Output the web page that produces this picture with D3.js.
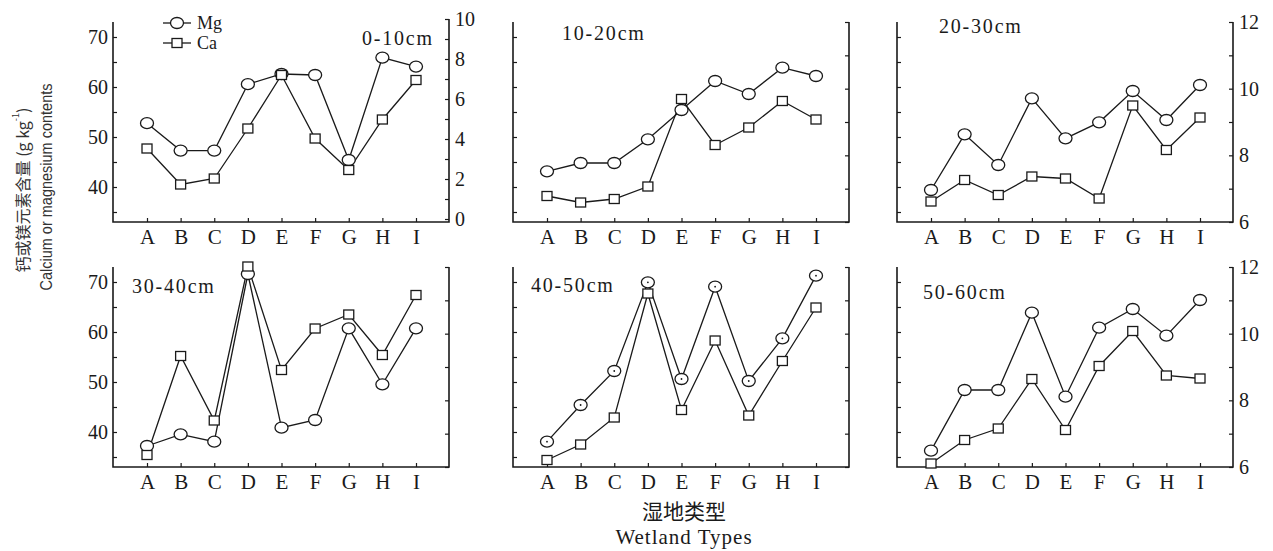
<!DOCTYPE html>
<html>
<head>
<meta charset="utf-8">
<script src="https://cdnjs.cloudflare.com/ajax/libs/d3/7.8.5/d3.min.js"></script>
<style>
  body { margin: 0; background: #fff; }
  svg { display: block; }
</style>
</head>
<body>
<div class="canvas"></div>
<script>
// wetland types and soil depths
const types = ["A", "B", "C", "D", "E", "F", "G", "H", "I"];
const depths = ["0-10cm", "10-20cm", "20-30cm", "30-40cm", "40-50cm", "50-60cm"];

// Mg (right axis) and Ca (left axis)
const mg0_10 = [4.79, 3.42, 3.42, 6.74, 7.25, 7.2, 2.95, 8.07, 7.62];
const ca0_10 = [47.7, 40.5, 41.7, 51.7, 62.4, 49.7, 43.4, 53.5, 61.4];
const mg10_20 = [7.52, 7.77, 7.77, 8.48, 9.36, 10.23, 9.84, 10.63, 10.38];
const ca10_20 = [38.2, 36.9, 37.6, 40.1, 57.6, 48.4, 51.9, 57.2, 53.5];
const mg20_30 = [6.96, 8.63, 7.71, 9.71, 8.51, 8.99, 9.93, 9.06, 10.11];
const ca20_30 = [37.1, 41.4, 38.4, 42.1, 41.7, 37.7, 56.3, 47.4, 53.9];
const mg30_40 = [6.63, 6.98, 6.76, 11.79, 7.18, 7.41, 10.16, 8.48, 10.16];
const ca30_40 = [35.4, 55.2, 42.3, 73.1, 52.4, 60.7, 63.5, 55.4, 67.4];
const mg40_50 = [6.76, 7.86, 8.88, 11.54, 8.64, 11.41, 8.58, 9.86, 11.74];
const ca40_50 = [34.4, 37.5, 42.9, 67.7, 44.4, 58.3, 43.3, 54.2, 64.9];
const mg50_60 = [6.49, 8.31, 8.31, 10.63, 8.11, 10.18, 10.74, 9.94, 11.01];
const ca50_60 = [33.7, 38.4, 40.7, 50.6, 40.4, 53.2, 60.2, 51.3, 50.7];

// tick values
const caTicks = [35, 40, 45, 50, 55, 60, 65, 70];
const mgTicksLow = [0, 1, 2, 3, 4, 5, 6, 7, 8, 9, 10];
const mgTicksHigh = [6, 7, 8, 9, 10, 11, 12];

const W = 1273, H = 551;
const serif = "'Liberation Serif', 'Times New Roman', serif";
const ink = "#1a1a1a";

const colX = [113, 513, 897];
const rowB = [222, 467];
const panelW = 336, panelH = 200;

const svg = d3.select(".canvas")
  .append("svg")
  .attr("width", W)
  .attr("height", H);

const panels = [
  { title: depths[0], mg: mg0_10, ca: ca0_10, col: 0, row: 0, leftLab: true, rightLab: true, low: true, tx: 362, ty: 45 },
  { title: depths[1], mg: mg10_20, ca: ca10_20, col: 1, row: 0, leftLab: false, rightLab: false, tx: 562, ty: 40 },
  { title: depths[2], mg: mg20_30, ca: ca20_30, col: 2, row: 0, leftLab: false, rightLab: true, tx: 939, ty: 33 },
  { title: depths[3], mg: mg30_40, ca: ca30_40, col: 0, row: 1, leftLab: true, rightLab: false, tx: 132, ty: 293 },
  { title: depths[4], mg: mg40_50, ca: ca40_50, col: 1, row: 1, leftLab: false, rightLab: false, tx: 531, ty: 292, dot: true },
  { title: depths[5], mg: mg50_60, ca: ca50_60, col: 2, row: 1, leftLab: false, rightLab: true, tx: 923, ty: 299 }
];

function styleAxis(g) {
  g.select(".domain").remove();
  g.selectAll("line").attr("stroke", ink).attr("stroke-width", 1.2);
  g.selectAll("text").attr("fill", ink);
  g.attr("font-family", serif).attr("font-size", 20);
}

panels.forEach((p) => {
  const x0 = colX[p.col], x1 = x0 + panelW;
  const yb = rowB[p.row], yt = yb - panelH;
  const g = svg.append("g");

  const x = d3.scalePoint().domain(types).range([x0 + 34, x1 - 33]);
  const yCa = d3.scaleLinear().domain([33, 73]).range([yb, yt]);
  const yMg = p.low
    ? d3.scaleLinear().domain([0, 10]).range([yb - 3, yt - 3])
    : d3.scaleLinear().domain([6, 12]).range([yb, yt]);
  const mgTicks = p.low ? mgTicksLow : mgTicksHigh;
  const topR = Math.min(yt, yMg.range()[1]);

  // frame: left, bottom, right
  g.append("path")
    .attr("d", `M${x0},${yt}V${yb}H${x1}V${topR}`)
    .attr("fill", "none")
    .attr("stroke", ink)
    .attr("stroke-width", 1.6);

  g.append("g")
    .attr("transform", `translate(${x0},0)`)
    .call(d3.axisLeft(yCa).tickValues(caTicks).tickSizeInner(-4).tickSizeOuter(0).tickPadding(5)
      .tickFormat((d) => (p.leftLab && d % 10 === 0 ? d : "")))
    .call(styleAxis);

  g.append("g")
    .attr("transform", `translate(${x1},0)`)
    .call(d3.axisRight(yMg).tickValues(mgTicks).tickSizeInner(-4).tickSizeOuter(0).tickPadding(6)
      .tickFormat((d) => (p.rightLab && d % 2 === 0 ? d : "")))
    .call(styleAxis);

  g.append("g")
    .attr("transform", `translate(0,${yb})`)
    .call(d3.axisBottom(x).tickSizeInner(-4).tickSizeOuter(0).tickPadding(7))
    .call(styleAxis)
    .attr("font-size", 21);

  // lines
  const caLine = d3.line().x((d, i) => x(types[i])).y((d) => yCa(d));
  const mgLine = d3.line().x((d, i) => x(types[i])).y((d) => yMg(d));
  g.append("path").attr("d", caLine(p.ca)).attr("fill", "none").attr("stroke", ink).attr("stroke-width", 1.3);
  g.append("path").attr("d", mgLine(p.mg)).attr("fill", "none").attr("stroke", ink).attr("stroke-width", 1.3);

  // Mg circles
  g.selectAll(".mg")
    .data(p.mg)
    .enter()
    .append("ellipse")
    .attr("cx", (d, i) => x(types[i]))
    .attr("cy", (d) => yMg(d))
    .attr("rx", 6.5)
    .attr("ry", 5.5)
    .attr("fill", "#fff")
    .attr("stroke", ink)
    .attr("stroke-width", 1.3);
  if (p.dot) {
    g.selectAll(".mgdot")
      .data(p.mg)
      .enter()
      .append("circle")
      .attr("cx", (d, i) => x(types[i]))
      .attr("cy", (d) => yMg(d))
      .attr("r", 0.9)
      .attr("fill", ink);
  }

  // Ca squares
  g.selectAll(".ca")
    .data(p.ca)
    .enter()
    .append("rect")
    .attr("x", (d, i) => x(types[i]) - 5)
    .attr("y", (d) => yCa(d) - 4.5)
    .attr("width", 10)
    .attr("height", 9)
    .attr("fill", "#fff")
    .attr("stroke", ink)
    .attr("stroke-width", 1.3);

  g.append("text")
    .attr("x", p.tx)
    .attr("y", p.ty)
    .attr("font-family", serif)
    .attr("font-size", 20)
    .attr("letter-spacing", 1.8)
    .attr("fill", ink)
    .text(p.title);
});

// legend
const legend = svg.append("g").attr("font-family", serif).attr("font-size", 18).attr("fill", ink);
[{ name: "Mg", y: 23 }, { name: "Ca", y: 43 }].forEach((d) => {
  legend.append("line").attr("x1", 163).attr("x2", 191).attr("y1", d.y).attr("y2", d.y)
    .attr("stroke", ink).attr("stroke-width", 1.3);
  if (d.name === "Mg") {
    legend.append("ellipse").attr("cx", 177).attr("cy", d.y).attr("rx", 6.5).attr("ry", 5.5)
      .attr("fill", "#fff").attr("stroke", ink).attr("stroke-width", 1.3);
  } else {
    legend.append("rect").attr("x", 172).attr("y", d.y - 4.5).attr("width", 10).attr("height", 9)
      .attr("fill", "#fff").attr("stroke", ink).attr("stroke-width", 1.3);
  }
  legend.append("text").attr("x", 197).attr("y", d.y + 6).text(d.name);
});

// y-axis title
const yt1 = svg.append("text")
  .attr("transform", "translate(22,190) rotate(-90)")
  .attr("text-anchor", "middle")
  .attr("dominant-baseline", "central")
  .attr("font-family", "'Noto Sans CJK SC', sans-serif")
  .attr("font-size", 16)
  .attr("fill", "#333");
yt1.append("tspan").text("钙或镁元素含量 (g kg");
yt1.append("tspan").attr("baseline-shift", "super").attr("font-size", 9).text("-1");
yt1.append("tspan").text(")");

svg.append("text")
  .attr("transform", "translate(46,187) rotate(-90)")
  .attr("text-anchor", "middle")
  .attr("dominant-baseline", "central")
  .attr("font-family", "'Liberation Sans', Arial, sans-serif")
  .attr("font-size", 17)
  .attr("textLength", 207)
  .attr("lengthAdjust", "spacingAndGlyphs")
  .attr("fill", "#333")
  .text("Calcium or magnesium contents");

// x-axis title
svg.append("text")
  .attr("x", 684)
  .attr("y", 519)
  .attr("text-anchor", "middle")
  .attr("font-family", "'Noto Sans CJK SC', sans-serif")
  .attr("font-size", 21)
  .attr("fill", ink)
  .text("湿地类型");
svg.append("text")
  .attr("x", 684)
  .attr("y", 544)
  .attr("text-anchor", "middle")
  .attr("font-family", serif)
  .attr("font-size", 21)
  .attr("letter-spacing", 1)
  .attr("fill", ink)
  .text("Wetland Types");
</script>
</body>
</html>
